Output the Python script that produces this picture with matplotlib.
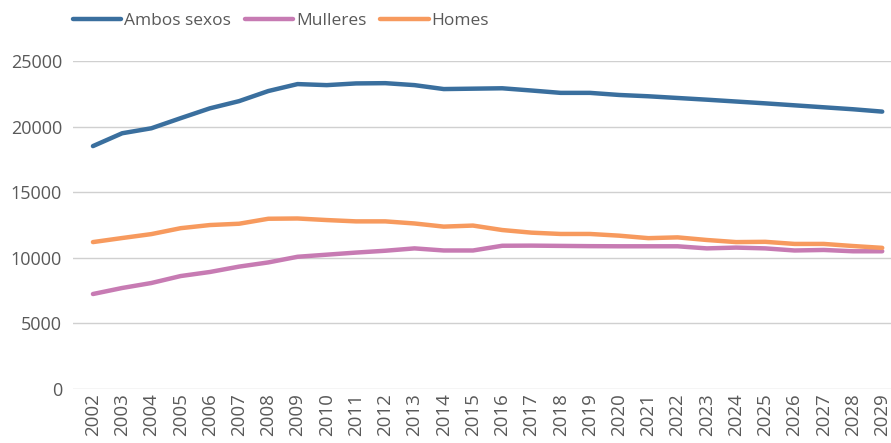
import numpy as np
import matplotlib.pyplot as plt
plt.rcParams.update({'font.family': ['Open Sans', 'DejaVu Sans'], 'font.size': 12})

# Data
years = list(range(2002, 2030))
ambos = [18520, 19500, 19880, 20650, 21400, 21950, 22720, 23250, 23170, 23300,
         23320, 23170, 22870, 22900, 22930, 22760, 22580, 22580, 22420, 22320,
         22190, 22060, 21920, 21780, 21630, 21480, 21330, 21150]
mulleres = [7240, 7700, 8080, 8610, 8920, 9330, 9650, 10080, 10240, 10400,
            10540, 10720, 10560, 10560, 10920, 10930, 10910, 10890, 10880, 10880,
            10880, 10720, 10780, 10720, 10560, 10600, 10500, 10500]
homes = [11200, 11510, 11810, 12260, 12500, 12600, 12980, 13000, 12880, 12780,
         12780, 12620, 12380, 12460, 12120, 11920, 11820, 11820, 11690, 11500,
         11560, 11360, 11200, 11220, 11060, 11060, 10900, 10760]

fig = plt.figure(figsize=(8.91, 4.43), dpi=100)
ax = fig.add_axes([0.082, 0.122, 0.918, 0.74])

grey = '#595959'
l1, = ax.plot(years, ambos, color='#3A6F9E', lw=3.2, solid_capstyle='round', label='Ambos sexos')
l2, = ax.plot(years, mulleres, color='#C77BB3', lw=3.2, solid_capstyle='round', label='Mulleres')
l3, = ax.plot(years, homes, color='#F79A5E', lw=3.2, solid_capstyle='round', label='Homes')

ax.set_ylim(0, 25000)
ax.set_xlim(2001.32, 2029.3)
ax.set_yticks(range(0, 25001, 5000))
ax.set_xticks(years)
ax.set_xticklabels([str(y) for y in years], rotation=90)
ax.grid(axis='y', color='#D0D0D0', lw=1)
ax.set_axisbelow(True)
for s in ax.spines.values():
    s.set_visible(False)
ax.tick_params(length=0, colors=grey)
ax.tick_params(axis='y', pad=8, labelsize=13)
ax.tick_params(axis='x', pad=3, labelsize=13.5)

fig.legend(handles=[l1, l2, l3], loc='center left', bbox_to_anchor=(0.064, 0.953),
           ncol=3, frameon=False, fontsize=12.5, labelcolor=grey,
           handlelength=2.8, handletextpad=0.15, columnspacing=0.8)

fig.savefig('out.png', dpi=100)
